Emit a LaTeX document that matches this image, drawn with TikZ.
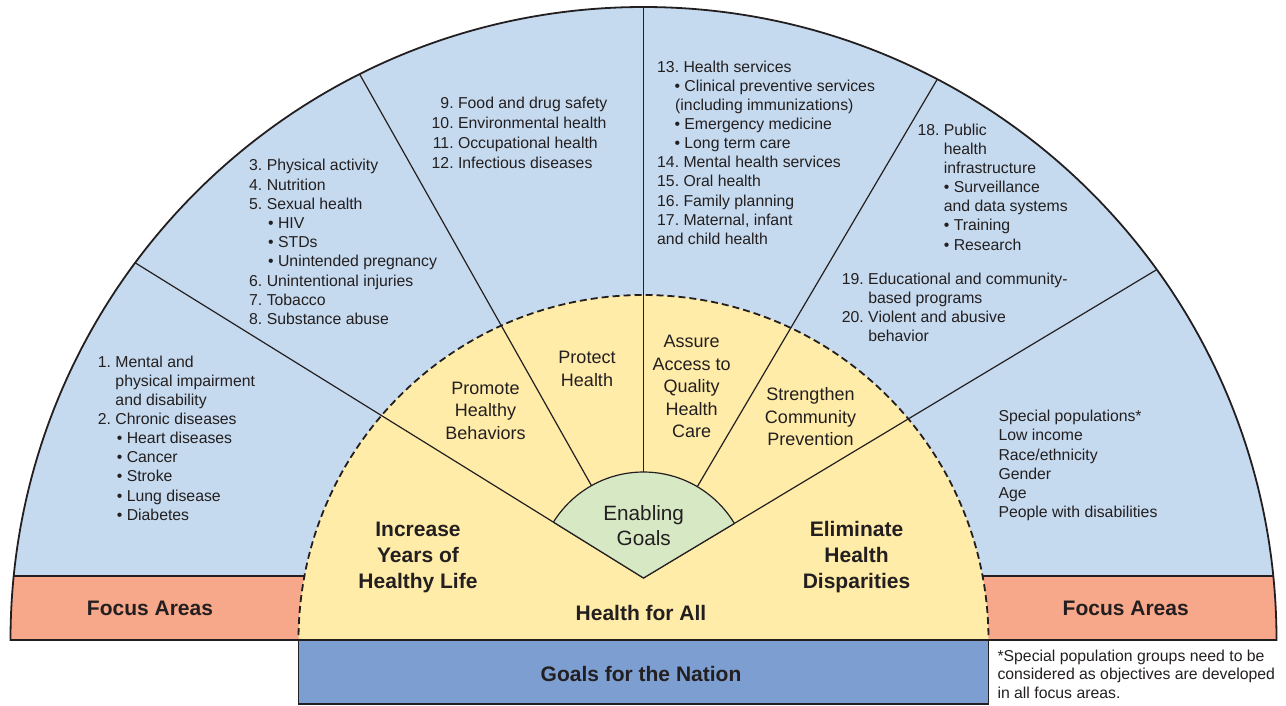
\documentclass[tikz,border=0pt]{standalone}
\usepackage{fontspec}
\setmainfont{Liberation Sans}
\usepackage{array}
\frenchspacing
\definecolor{bluefill}{RGB}{198,218,239}
\definecolor{yellowfill}{RGB}{255,236,168}
\definecolor{greenfill}{RGB}{215,232,196}
\definecolor{salmonfill}{RGB}{247,167,138}
\definecolor{navyfill}{RGB}{124,158,209}
\definecolor{ink}{RGB}{35,31,32}
\newcommand\txtlines[2]{{\fontsize{15.8}{#1}\selectfont\begin{tabular}[t]{@{}l@{}}#2\end{tabular}}}
\newcommand\numlines[2]{{\fontsize{15.8}{#1}\selectfont\begin{tabular}[t]{@{}r@{\ }l@{}}#2\end{tabular}}}
\newcommand\ctrlines[3]{{\fontsize{#1}{#2}\selectfont\begin{tabular}[t]{@{}c@{}}#3\end{tabular}}}
\newcommand\bul{\hspace*{1.4pt}•\ }
\begin{document}
\begin{tikzpicture}[x=1pt,y=-1pt,
  edge/.style={draw=ink, line width=1.2pt},
  rim/.style={draw=ink, line width=1.8pt},
  dashrim/.style={draw=ink, line width=1.8pt, dash pattern=on 7pt off 4pt},
  txt/.style={inner sep=0pt, text=ink, anchor=base west},
  ctxt/.style={inner sep=0pt, text=ink, anchor=base}]
\useasboundingbox (0,0) rectangle (1286,705);
\coordinate (O) at (643.5,640);
\coordinate (A) at (643.5,578);
\coordinate (r1) at (-36.4,156.4);
\coordinate (r2) at (250.8,-119);
\coordinate (r3) at (643.5,-222);
\coordinate (r4) at (1049.5,-111.3);
\coordinate (r5) at (1329.2,166);
\coordinate (g1) at (553.4,522.1);
\coordinate (g5) at (734.4,523.4);
% blue field, focus bands, yellow field, radial lines
\begin{scope}
  \clip (0,-10) rectangle (1286,640);
  \clip (O) circle[radius=633];
  \fill[bluefill] (0,-10) rectangle (1286,640);
  \fill[salmonfill] (0,576) rectangle (1286,640);
  \draw[edge] (0,576) -- (1286,576);
  \fill[yellowfill] (O) circle[radius=345];
  \draw[edge] (A) -- (r1);
  \draw[edge] (A) -- (r2);
  \draw[edge] (A) -- (r3);
  \draw[edge] (A) -- (r4);
  \draw[edge] (A) -- (r5);
\end{scope}
% green sector
\begin{scope}
  \clip (A) -- (r1) -- (-36.4,-300) -- (1329.2,-300) -- (r5) -- cycle;
  \fill[greenfill] (A) circle[radius=106];
  \draw[edge] (A) circle[radius=106];
\end{scope}
\draw[edge] (g1) -- (A) -- (g5);
% dashed inner rim and outer rim
\begin{scope}
  \clip (0,-10) rectangle (1286,640);
  \draw[dashrim] (O) circle[radius=345];
  \draw[rim] (O) circle[radius=633];
\end{scope}
\draw[edge] (10.5,640) -- (298.5,640);
\draw[edge] (988.5,640) -- (1276.5,640);
\draw[edge, fill=navyfill] (298.5,640) rectangle (988.5,704);
% focus area texts
\node[txt] (s1) at (97.7,367.3) {\numlines{19.1}{1.&Mental and\\&physical impairment\\&and disability\\2.&Chronic diseases\\&\bul Heart diseases\\&\bul Cancer\\&\bul Stroke\\&\bul Lung disease\\&\bul Diabetes}};
\node[txt] (s2) at (249,170.8) {\numlines{19.2}{3.&Physical activity\\4.&Nutrition\\5.&Sexual health\\&\bul HIV\\&\bul STDs\\&\bul Unintended pregnancy\\6.&Unintentional injuries\\7.&Tobacco\\8.&Substance abuse}};
\node[txt] (s3) at (431.5,108.3) {\numlines{20}{9.&Food and drug safety\\10.&Environmental health\\11.&Occupational health\\12.&Infectious diseases}};
\node[txt] (s4) at (657,72.3) {\txtlines{19.1}{13. Health services\\\hspace*{17.3pt}•\ Clinical preventive services\\\hspace*{18pt}(including immunizations)\\\hspace*{17.3pt}•\ Emergency medicine\\\hspace*{17.3pt}•\ Long term care\\14. Mental health services\\15. Oral health\\16. Family planning\\17. Maternal, infant\\and child health}};
\node[txt] (s5) at (917.3,135.7) {\numlines{19.05}{18.&Public\\&health\\&infrastructure\\&•\ Surveillance\\&and data systems\\&•\ Training\\&•\ Research}};
\node[txt] (s5b) at (841.7,284.3) {\numlines{18.9}{19.&Educational and community-\\&based programs\\20.&Violent and abusive\\&behavior}};
\node[txt] (s6) at (998.3,421.7) {\txtlines{19.2}{Special populations*\\Low income\\Race/ethnicity\\Gender\\Age\\People with disabilities}};
\node[txt] (foot) at (997.3,661) {\txtlines{18.6}{*Special population groups need to be\\considered as objectives are developed\\in all focus areas.}};
% enabling goals
\node[ctxt] (promote) at (485.5,394.3) {\ctrlines{18}{22.5}{Promote\\Healthy\\Behaviors}};
\node[ctxt] (protect) at (587,363.5) {\ctrlines{18}{22.5}{Protect\\Health}};
\node[ctxt] (assure) at (691.7,347.7) {\ctrlines{18}{22.5}{Assure\\Access to\\Quality\\Health\\Care}};
\node[ctxt] (strengthen) at (810.5,400.5) {\ctrlines{18}{22.5}{Strengthen\\Community\\Prevention}};
\node[ctxt] (enabling) at (643.7,520) {\ctrlines{20.7}{25.5}{Enabling\\Goals}};
% goals
\node[ctxt] (increase) at (418,536.5) {\bfseries\ctrlines{21}{26}{Increase\\Years of\\Healthy Life}};
\node[ctxt] (eliminate) at (856.5,536.5) {\bfseries\ctrlines{21}{26}{Eliminate\\Health\\Disparities}};
\node[ctxt] (hfa) at (641,620) {\bfseries\fontsize{21}{26}\selectfont Health for All};
\node[ctxt] (focusL) at (150,615.7) {\bfseries\fontsize{21}{26}\selectfont Focus Areas};
\node[ctxt] (focusR) at (1125.7,615.7) {\bfseries\fontsize{21}{26}\selectfont Focus Areas};
\node[ctxt] (nation) at (641,681) {\bfseries\fontsize{21}{26}\selectfont Goals for the Nation};
\end{tikzpicture}
\end{document}
